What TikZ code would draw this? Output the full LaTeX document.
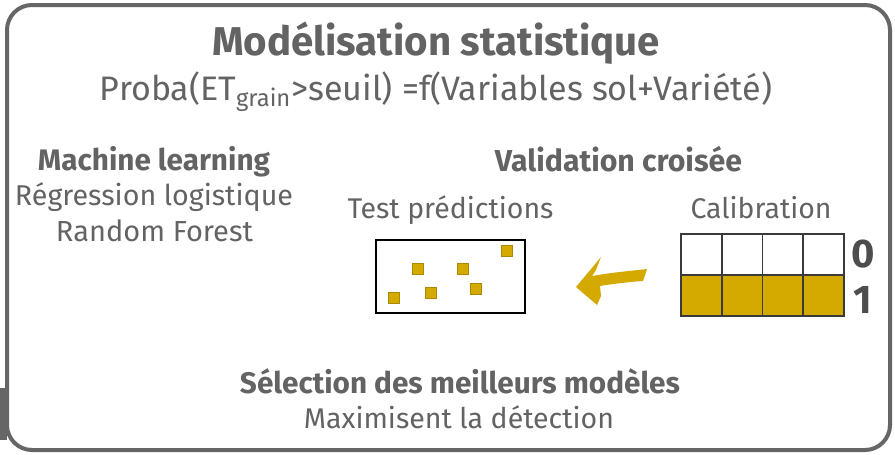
\documentclass[tikz,border=0pt]{standalone}
\usepackage{fontspec}
\setmainfont{Fira Sans}
\usepackage{graphicx}
\definecolor{txt}{HTML}{636363}
\definecolor{frame}{HTML}{666666}
\definecolor{gold}{HTML}{D4AA00}
\definecolor{digit}{HTML}{4D4D4D}
\definecolor{grid}{HTML}{3A3A3A}
\newcommand{\fitw}[2]{\resizebox{#1}{!}{#2}}
\begin{document}
\begin{tikzpicture}[x=1pt,y=-1pt,
  lbl/.style={anchor=base,inner sep=0pt,text=txt,font=\fontsize{20}{24}\selectfont},
  blbl/.style={lbl,font=\fontsize{20}{24}\selectfont\bfseries},
  dig/.style={anchor=base,inner sep=0pt,text=digit,font=\fontsize{40}{44}\selectfont\bfseries},
  sq/.style={fill=gold,draw=gold!80!black,line width=0.3pt,minimum size=11pt,inner sep=0pt},
  cell/.style={draw=grid,line width=1.1pt}]
\useasboundingbox (0,0) rectangle (895,455);
\fill[white] (0,0) rectangle (895,455);
% frame
\fill[frame] (0,388) rectangle (7,440);
\draw[frame,line width=4pt,rounded corners=25pt] (7,5) rectangle (890,450);
% titles
\node[blbl] (title) at (436,55) {\fitw{448pt}{Modélisation statistique}};
\node[lbl] (proba) at (436,100) {\fitw{672pt}{Proba(ET\textsubscript{grain}>seuil) =f(Variables sol+Variété)}};
% left block
\node[blbl] (ml) at (154,170) {\fitw{232pt}{Machine learning}};
\node[lbl] (rl) at (154,205) {\fitw{278pt}{Régression logistique}};
\node[lbl] (rf) at (154.5,241) {\fitw{197pt}{Random Forest}};
% validation
\node[blbl] (vc) at (618.5,171) {\fitw{247pt}{Validation croisée}};
\node[lbl] (tp) at (450.5,218) {\fitw{206pt}{Test prédictions}};
\node[lbl] (cal) at (761,218) {\fitw{141pt}{Calibration}};
% test box
\draw[black,line width=2pt] (376,240) rectangle (525,313);
\node[sq] (s1) at (506.7,250.7) {};
\node[sq] (s2) at (417.7,268.3) {};
\node[sq] (s3) at (462.3,269) {};
\node[sq] (s4) at (430.7,292.7) {};
\node[sq] (s5) at (475.7,288.3) {};
\node[sq] (s6) at (393.3,298) {};
% calibration grid
\fill[gold] (681,275) rectangle (844,316);
\foreach \xa/\xb in {681/722,722/762.5,762.5/803,803/844}{
  \draw[cell] (\xa,234) rectangle (\xb,275);
  \draw[cell] (\xa,275) rectangle (\xb,316);
}
\node[dig] (d0) at (863,267) {0};
\node[dig] (d1) at (863,313) {1};
% arrow
\fill[gold] (576,287) -- (601,257) -- (596,270) -- (592,276)
  .. controls (615,272) and (630,271) .. (647,269) -- (643,281)
  .. controls (628,282) and (612,284) .. (600,286)
  -- (601,296) -- (597,305) .. controls (590,299) and (583,293) .. cycle;
% bottom
\node[blbl] (sel) at (460,393) {\fitw{440pt}{Sélection des meilleurs modèles}};
\node[lbl] (max) at (459,428) {\fitw{310pt}{Maximisent la détection}};
\end{tikzpicture}
\end{document}
